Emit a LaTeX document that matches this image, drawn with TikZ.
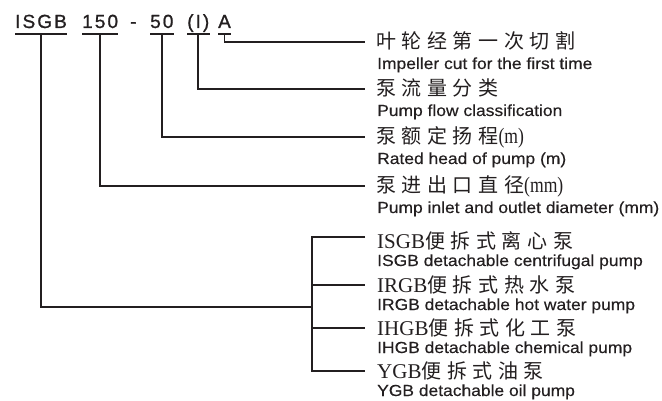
\documentclass[tikz,border=0pt]{standalone}
\usepackage{fontspec}
\newfontfamily\codefont[LetterSpace=11,FakeBold=1]{Liberation Sans}
\newfontfamily\enfont[FakeStretch=1.09,FakeBold=0.3]{Liberation Sans}
\newfontfamily\cjkfont[LetterSpace=28]{Noto Sans CJK SC}
\newfontfamily\serfont{Liberation Serif}
\newfontfamily\unitfont[FakeStretch=0.8]{Liberation Serif}
\definecolor{ink}{RGB}{35,31,32}
\newcommand{\lat}[1]{{\serfont\fontsize{21}{22}\selectfont #1}}
\newcommand{\unit}[1]{{\unitfont\fontsize{22}{22}\selectfont #1}}
\begin{document}
\begin{tikzpicture}[x=1pt,y=-1pt,
  conn/.style={draw=ink, line width=1.8pt},
  uline/.style={draw=ink, line width=2.2pt},
  code/.style={font=\codefont\fontsize{19}{20}\selectfont, inner sep=0pt, anchor=base west, text depth=6pt, text=ink},
  cjk/.style={font=\cjkfont\fontsize{20}{22}\selectfont, inner sep=0pt, anchor=west, text height=17pt, text depth=3pt, text=ink},
  en/.style={font=\enfont\fontsize{16}{17}\selectfont, inner sep=0pt, anchor=base west, text=ink},
]
\useasboundingbox (0,0) rectangle (662,401);

% model code
\node[code] (cISGB) at (15,28) {ISGB};
\node[code] (c150) at (82,28) {150};
\node[code] (cdash) at (130,28) {-};
\node[code] (c50) at (150,28) {50};
\node[code] (cI) at (187,28) {(I)};
\node[code] (cA) at (218,28) {A};
\foreach \n in {cISGB,c150,c50,cI,cA}
  \draw[uline] (\n.south west) -- (\n.south east);

% upper descriptions
\node[cjk] (dA) at (376,42) {叶轮经第一次切割};
\node[en]  (eA) at (377,69) {Impeller cut for the first time};
\node[cjk] (dB) at (376,89) {泵流量分类};
\node[en]  (eB) at (377,116) {Pump flow classification};
\node[cjk] (dC) at (376,137) {泵额定扬程\unit{(m)}};
\node[en]  (eC) at (377,164) {Rated head of pump (m)};
\node[cjk] (dD) at (376,186) {泵进出口直径\unit{(mm)}};
\node[en]  (eD) at (377,213) {Pump inlet and outlet diameter (mm)};

\draw[conn] (cA.south) |- ([xshift=-11pt]dA.west);
\draw[conn] (cI.south) |- ([xshift=-11pt]dB.west);
\draw[conn] (c50.south) |- ([xshift=-11pt]dC.west);
\draw[conn] (c150.south) |- ([xshift=-11pt]dD.west);

% pump types
\node[cjk] (b1) at (377,241) {\lat{ISGB}便拆式离心泵};
\node[en]  (f1) at (377,266) {ISGB detachable centrifugal pump};
\node[cjk] (b2) at (377,285) {\lat{IRGB}便拆式热水泵};
\node[en]  (f2) at (377,310) {IRGB detachable hot water pump};
\node[cjk] (b3) at (377,328) {\lat{IHGB}便拆式化工泵};
\node[en]  (f3) at (377,353) {IHGB detachable chemical pump};
\node[cjk] (b4) at (377,371) {\lat{YGB}便拆式油泵};
\node[en]  (f4) at (377,396) {YGB detachable oil pump};

\coordinate (jn) at (312,307);
\coordinate (a1) at (312,237);
\coordinate (a2) at (312,285);
\coordinate (a3) at (312,328);
\coordinate (a4) at (312,371);

\draw[conn] (cISGB.south) |- (jn);
\draw[conn] ([xshift=-12pt]b1.west |- a1) -- (a1) -- (a4) -- ([xshift=-12pt]b4.west |- a4);
\draw[conn] (a2) -- ([xshift=-12pt]b2.west |- a2);
\draw[conn] (a3) -- ([xshift=-12pt]b3.west |- a3);
\end{tikzpicture}
\end{document}
